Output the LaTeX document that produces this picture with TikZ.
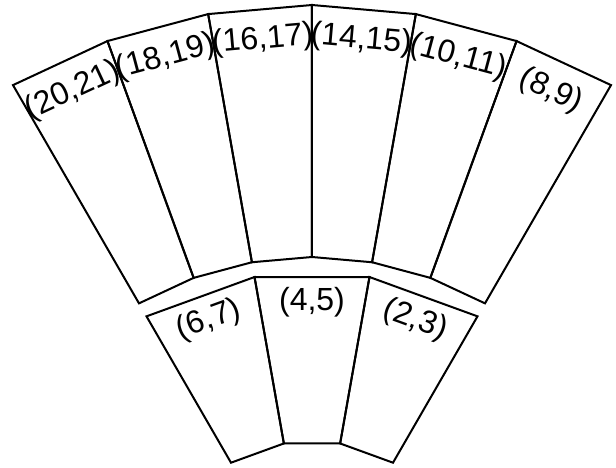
\documentclass[tikz,border=0pt]{standalone}
\usepackage{fontspec}
\setmainfont{Liberation Sans}
\begin{document}
\begin{tikzpicture}[x=1pt,y=1pt,line width=2pt,line join=miter,
  sector/.style={draw=black},
  lab/.style={font=\fontsize{32}{34}\selectfont,inner sep=0pt}]
\useasboundingbox (-312,136) rectangle (304,603);
% outer ring: six sectors of 10 degrees
\foreach \a in {0,...,5} {
  \pgfmathsetmacro\s{60+10*\a}
  \pgfmathsetmacro\e{70+10*\a}
  \draw[sector] (\s:346) -- (\s:598) -- (\e:598) -- (\e:346) -- cycle;
}
% inner ring: three sectors of 20 degrees
\foreach \a in {0,...,2} {
  \pgfmathsetmacro\s{60+20*\a}
  \pgfmathsetmacro\e{80+20*\a}
  \draw[sector] (\s:162) -- (\s:331) -- (\e:331) -- (\e:162) -- cycle;
}
% outer labels
\node[lab,rotate=25]  (o1) at (115:565) {(20,21)};
\node[lab,rotate=15]  (o2) at (105:565) {(18,19)};
\node[lab,rotate=5]   (o3) at (95:565)  {(16,17)};
\node[lab,rotate=-5]  (o4) at (85:565)  {(14,15)};
\node[lab,rotate=-15] (o5) at (75:565)  {(10,11)};
\node[lab,rotate=-25] (o6) at (65:565)  {(8,9)};
% inner labels
\node[lab,rotate=20]  (i1) at (110:301) {(6,7)};
\node[lab]            (i2) at (90:301)  {(4,5)};
\node[lab,rotate=-20] (i3) at (70:301)  {(2,3)};
\end{tikzpicture}
\end{document}
